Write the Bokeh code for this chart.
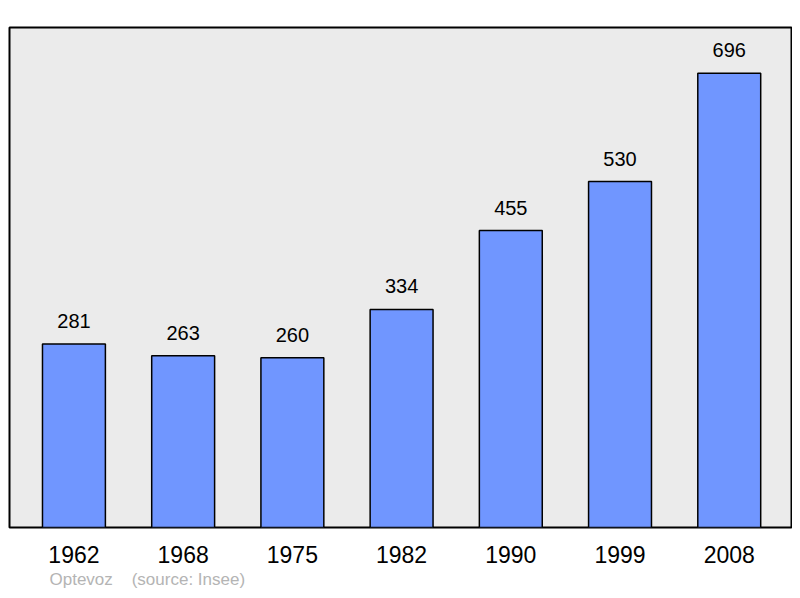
from bokeh.plotting import figure
from bokeh.models import Range1d, FixedTicker, Title, ColumnDataSource
from bokeh.core.properties import value
from bokeh.embed import file_html
from bokeh.resources import INLINE

years = ["1962", "1968", "1975", "1982", "1990", "1999", "2008"]
population = [281, 263, 260, 334, 455, 530, 696]
footer_text = "Optevoz\u00a0\u00a0\u00a0\u00a0(source: Insee)"

idx = list(range(len(years)))
src = ColumnDataSource(dict(x=idx, top=population, lbl=[str(v) for v in population]))

p = figure(width=792, height=590, output_backend="svg", toolbar_location=None,
           x_range=Range1d(-0.59, 6.57), y_range=Range1d(0, 766),
           min_border_left=9, min_border_right=1, min_border_top=27, min_border_bottom=62)
p.background_fill_color = "#ebebeb"
p.border_fill_color = "white"
p.outline_line_color = "black"
p.outline_line_width = 2
p.xgrid.visible = False
p.ygrid.visible = False
p.yaxis.visible = False

p.vbar(x="x", top="top", width=0.576, bottom=0, source=src,
       fill_color="#7096ff", line_color="black", line_width=1.5)
p.text(x="x", y="top", text="lbl", source=src, text_align="center",
       text_baseline="middle", y_offset=-23, text_font=value("Liberation Sans"),
       text_font_size="20px", text_color="black")

ax = p.xaxis[0]
ax.ticker = FixedTicker(ticks=idx)
ax.major_label_overrides = {i: y for i, y in zip(idx, years)}
ax.axis_line_color = None
ax.major_tick_line_color = None
ax.minor_tick_line_color = None
ax.major_tick_out = 0
ax.major_label_standoff = 18
ax.major_label_text_font = "Liberation Sans"
ax.major_label_text_font_size = "23px"
ax.major_label_text_color = "black"

footer = Title(text=footer_text, align="left", offset=40, text_font="Liberation Sans",
               text_font_size="17px", text_color="#b4b4b4", text_font_style="normal",
               standoff=4)
p.add_layout(footer, "below")

open("out.html", "w").write(file_html(p, INLINE))
